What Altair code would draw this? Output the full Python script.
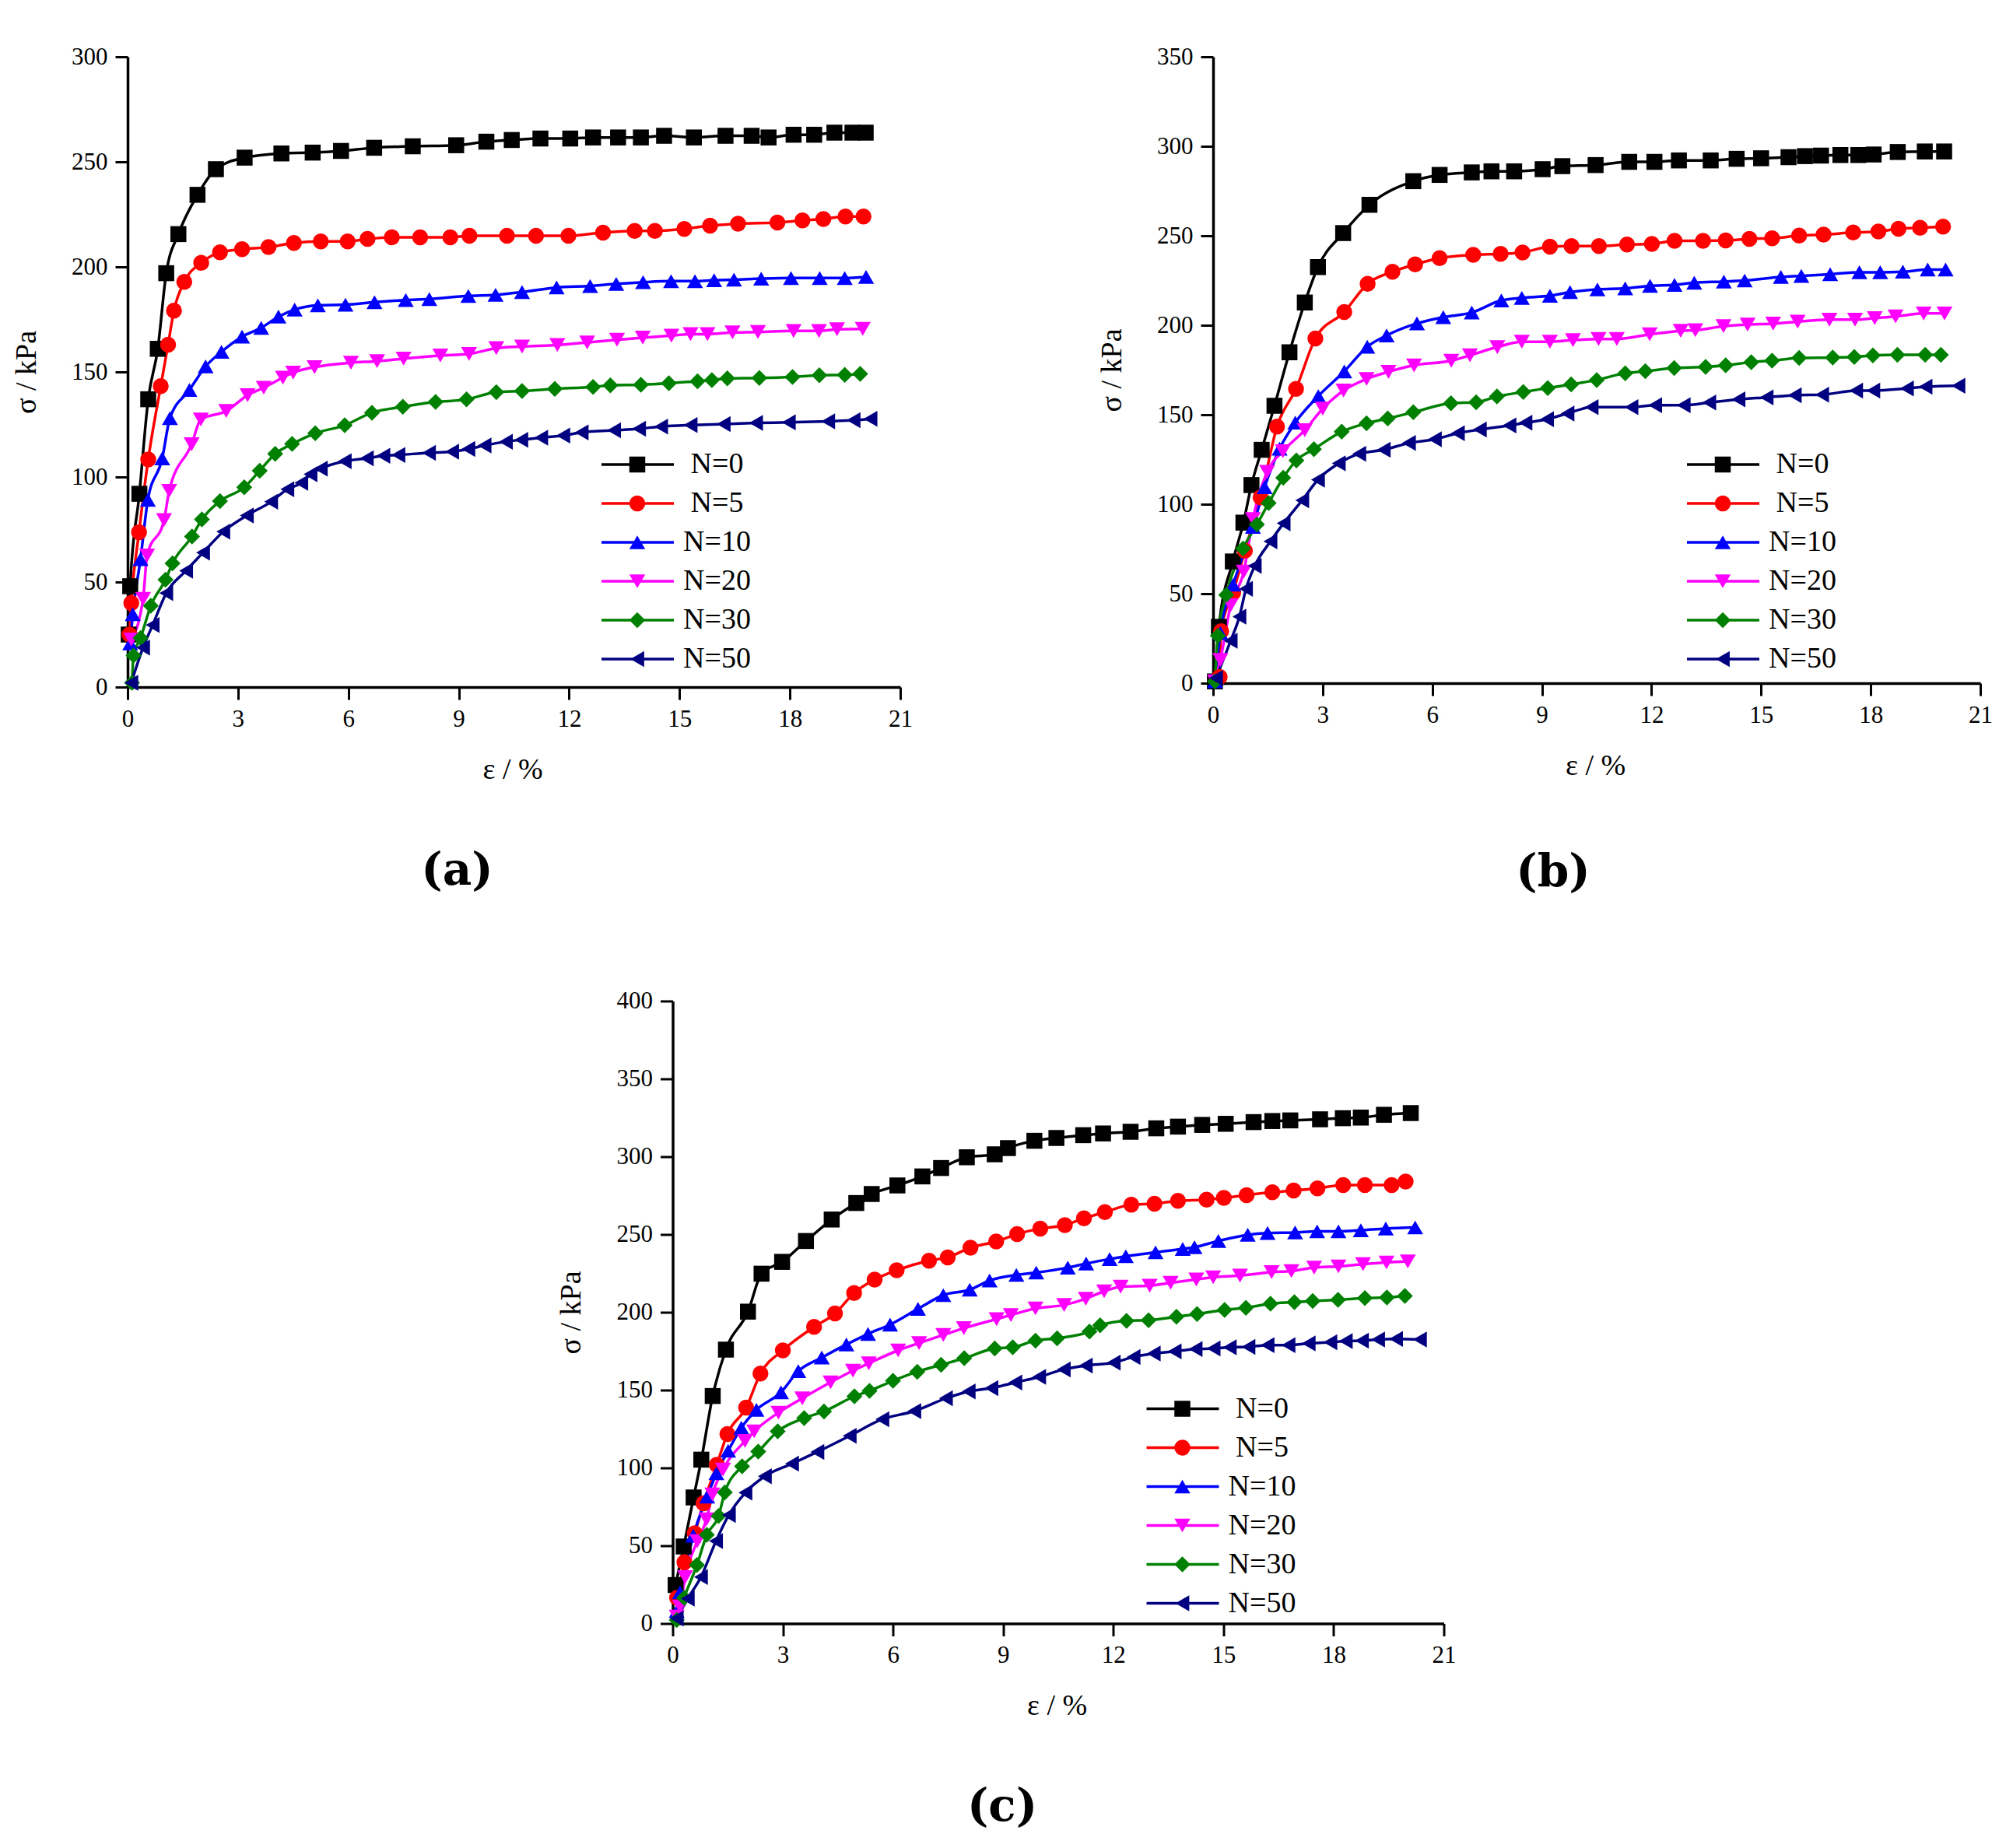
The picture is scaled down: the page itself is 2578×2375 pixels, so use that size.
import altair as alt
import pandas as pd

SERIES = ["N=0", "N=5", "N=10", "N=20", "N=30", "N=50"]
KEYS = ["k0", "k5", "k10", "k20", "k30", "k50"]
COLORS = ["#000000", "#ff0000", "#0000ff", "#ff00ff", "#008000", "#000080"]
SHAPES = ["square", "circle", "triangle-up", "triangle-down", "diamond", "triangle-left"]
X_TICKS = [0, 3, 6, 9, 12, 15, 18, 21]
A_Y_TICKS = [0, 50, 100, 150, 200, 250, 300]
B_Y_TICKS = [0, 50, 100, 150, 200, 250, 300, 350]
C_Y_TICKS = [0, 50, 100, 150, 200, 250, 300, 350, 400]

# ---------------- panel (a) ----------------
A_N0_EPS = [0.03, 0.07, 0.32, 0.56, 0.82, 1.05, 1.38, 1.9, 2.4, 3.18, 4.18, 5.03, 5.8, 6.7, 7.75, 8.93, 9.75, 10.44, 11.22, 12.03, 12.65, 13.33, 13.95, 14.58, 15.39, 16.25, 16.96, 17.42, 18.1, 18.66, 19.21, 19.7, 20.06]
A_N0_SIG = [25, 48, 92, 137, 161, 197, 215.6, 234.3, 246.5, 252, 254, 254.4, 255.2, 256.7, 257.4, 257.9, 259.6, 260.4, 261.1, 261.1, 261.6, 261.6, 261.6, 262.4, 261.6, 262.4, 262.4, 261.6, 262.9, 262.9, 263.9, 263.9, 263.9]
A_N5_EPS = [0.05, 0.1, 0.31, 0.56, 0.9, 1.1, 1.26, 1.54, 2.0, 2.51, 3.11, 3.83, 4.52, 5.25, 5.98, 6.52, 7.18, 7.95, 8.77, 9.29, 10.31, 11.1, 11.98, 12.92, 13.78, 14.33, 15.13, 15.83, 16.59, 17.66, 18.34, 18.91, 19.51, 20.0]
A_N5_SIG = [25, 40, 73.7, 108.3, 143.2, 163, 179.2, 192.9, 201.9, 206.9, 208.4, 209.4, 211.4, 212.1, 212.1, 213.3, 214.1, 214.1, 214.1, 214.8, 214.8, 214.8, 214.8, 216.3, 217.1, 217.1, 218.1, 219.6, 220.6, 221.1, 222.1, 222.8, 224, 224]
A_N10_EPS = [0.07, 0.14, 0.35, 0.55, 0.94, 1.15, 1.68, 2.12, 2.55, 3.11, 3.63, 4.1, 4.54, 5.17, 5.92, 6.71, 7.56, 8.2, 9.26, 10.0, 10.72, 11.66, 12.57, 13.28, 14.01, 14.77, 15.42, 15.94, 16.48, 17.22, 18.03, 18.81, 19.49, 20.07]
A_N10_SIG = [20.8, 34.7, 60.9, 89.1, 108.8, 128, 141.4, 152.6, 159.6, 166.8, 171, 176.3, 179.7, 181.7, 182, 183.2, 184.2, 184.7, 186.2, 186.7, 188, 190.2, 190.9, 191.9, 192.7, 193.2, 193.2, 193.7, 193.9, 194.4, 194.7, 194.7, 194.7, 195.2]
A_N20_EPS = [0.1, 0.42, 0.53, 0.99, 1.13, 1.74, 1.99, 2.68, 3.26, 3.7, 4.22, 4.5, 5.08, 6.07, 6.78, 7.5, 8.5, 9.28, 10.02, 10.72, 11.68, 12.49, 13.3, 14.0, 14.78, 15.3, 15.76, 16.44, 17.13, 18.1, 18.79, 19.28, 19.98]
A_N20_SIG = [22.6, 42, 62.6, 79.5, 93.4, 115.6, 127.4, 131.4, 138.9, 142.5, 147.3, 149.7, 152.3, 154.4, 155.1, 156.3, 157.8, 158.6, 161.3, 162.1, 162.8, 164, 165.3, 166.3, 167.3, 168, 168, 168.8, 169, 169.5, 169.5, 170.3, 170.5]
A_N30_EPS = [0.12, 0.16, 0.35, 0.63, 1.03, 1.22, 1.75, 2.02, 2.51, 3.17, 3.59, 4.01, 4.47, 5.1, 5.9, 6.64, 7.48, 8.37, 9.21, 10.02, 10.72, 11.61, 12.65, 13.12, 13.95, 14.71, 15.49, 15.88, 16.3, 17.17, 18.07, 18.8, 19.49, 19.91]
A_N30_SIG = [2, 15, 23.3, 38.7, 51.1, 58.9, 71.7, 79.8, 88.5, 95.1, 103, 111, 115.7, 120.8, 124.6, 130.6, 133.4, 135.7, 136.9, 140.4, 140.9, 141.9, 142.9, 143.6, 143.9, 144.6, 145.6, 146.1, 146.9, 147.1, 147.6, 148.4, 148.6, 149.1]
A_N50_EPS = [0.1, 0.42, 0.68, 1.05, 1.59, 2.05, 2.6, 3.24, 3.9, 4.34, 4.72, 4.97, 5.25, 5.9, 6.5, 6.95, 7.36, 8.19, 8.82, 9.26, 9.7, 10.28, 10.7, 11.24, 11.84, 12.34, 13.22, 13.9, 14.5, 15.3, 16.2, 17.08, 17.97, 19.04, 19.73, 20.19]
A_N50_SIG = [2, 18.8, 29.5, 44.7, 55.4, 64, 74, 81.7, 88.2, 94.2, 97.2, 101.3, 104, 107.5, 108.9, 110.1, 110.5, 111.5, 112, 113.3, 115, 116.8, 117.7, 118.7, 119.7, 121.2, 122.2, 123, 124, 124.7, 125.2, 125.7, 126, 126.5, 127, 127.7]

# ---------------- panel (b) ----------------
B_N0_EPS = [0.05, 0.16, 0.54, 0.83, 1.05, 1.33, 1.68, 2.09, 2.51, 2.87, 3.56, 4.28, 5.48, 6.2, 7.08, 7.62, 8.24, 9.02, 9.56, 10.47, 11.39, 12.08, 12.75, 13.62, 14.33, 15.0, 15.75, 16.2, 16.64, 17.17, 17.66, 18.08, 18.74, 19.48, 20.01]
B_N0_SIG = [1, 31.5, 68, 89.7, 110.7, 130.4, 155, 184.9, 212.7, 232.5, 251.5, 267.3, 280.5, 284, 285.4, 286, 286, 287.2, 288.9, 289.5, 291.3, 291.3, 292.1, 292.1, 293, 293.3, 293.9, 294.5, 294.8, 295.1, 295.1, 295.4, 296.8, 297.1, 297.1]
B_N5_EPS = [0.18, 0.22, 0.55, 0.87, 1.3, 1.75, 2.27, 2.8, 3.59, 4.23, 4.91, 5.53, 6.2, 7.12, 7.87, 8.47, 9.22, 9.81, 10.56, 11.33, 12.01, 12.63, 13.41, 14.03, 14.68, 15.3, 16.04, 16.71, 17.52, 18.21, 18.76, 19.35, 19.98]
B_N5_SIG = [3.5, 29, 50.7, 74, 103.8, 143.4, 164.5, 192.6, 207.4, 223.2, 229.9, 234, 237.5, 239.3, 239.9, 240.7, 243.9, 244.2, 244.2, 245.1, 245.4, 247.2, 247.2, 247.4, 248.3, 248.6, 250.1, 250.7, 251.8, 252.4, 253.9, 254.5, 255.1]
B_N10_EPS = [0.05, 0.2, 0.55, 1.09, 1.41, 1.82, 2.25, 2.88, 3.59, 4.22, 4.75, 5.58, 6.3, 7.08, 7.89, 8.45, 9.22, 9.77, 10.52, 11.28, 11.96, 12.63, 13.17, 13.98, 14.55, 15.54, 16.1, 16.89, 17.69, 18.26, 18.88, 19.56, 20.05]
B_N10_SIG = [1, 28, 55, 87.3, 109.5, 131, 145.6, 160.4, 174.2, 188, 194.3, 201, 204.5, 207.1, 213.9, 215.3, 216.5, 218.5, 220, 220.6, 222, 222.6, 223.8, 224.4, 225, 227, 227.6, 228.5, 229.6, 229.6, 229.9, 231.1, 231.1]
B_N20_EPS = [0.05, 0.2, 0.48, 0.84, 1.09, 1.48, 1.91, 2.51, 3.0, 3.57, 4.2, 4.8, 5.5, 6.52, 7.03, 7.78, 8.45, 9.22, 9.85, 10.55, 11.05, 11.95, 12.8, 13.2, 13.97, 14.63, 15.33, 16.0, 16.87, 17.57, 18.11, 18.68, 19.45, 20.02]
B_N20_SIG = [1, 13, 43.5, 62.3, 91.7, 118.1, 129.6, 141.4, 153.4, 163.5, 170, 174, 177.6, 180.2, 183.2, 187.8, 190.8, 190.8, 191.7, 192.3, 192.3, 194.9, 196.9, 197.2, 199.5, 200.4, 200.9, 202, 203.1, 203.1, 204, 204.9, 206.6, 206.6]
B_N30_EPS = [0.05, 0.13, 0.36, 0.82, 1.2, 1.52, 1.92, 2.28, 2.76, 3.52, 4.2, 4.78, 5.48, 6.51, 7.2, 7.77, 8.49, 9.16, 9.8, 10.5, 11.28, 11.83, 12.62, 13.48, 14.03, 14.73, 15.3, 16.04, 16.96, 17.55, 18.06, 18.73, 19.49, 19.92]
B_N30_SIG = [1, 26.5, 49.3, 75.2, 88.7, 100.6, 114.8, 124.5, 130.8, 140.5, 145.2, 147.9, 151.4, 156.4, 157, 160.2, 162.7, 164.9, 167, 169.4, 173.2, 174.3, 176.1, 176.7, 177.6, 179.4, 180.2, 181.7, 182, 182.3, 183.2, 183.5, 183.5, 183.5]
B_N50_EPS = [0.08, 0.48, 0.72, 0.9, 1.14, 1.57, 1.93, 2.44, 2.87, 3.44, 4.0, 4.67, 5.36, 6.07, 6.7, 7.3, 8.11, 8.55, 9.14, 9.7, 10.36, 11.45, 12.1, 12.88, 13.58, 14.38, 15.15, 15.92, 16.67, 17.6, 18.07, 18.99, 19.5, 20.4]
B_N50_SIG = [2.9, 23.7, 37.2, 52.7, 65.5, 79.2, 89.4, 102.2, 113.7, 122.8, 128.2, 130.4, 134.2, 136.3, 139.7, 141.7, 144, 145.5, 147.5, 150.7, 154.2, 154.2, 155.3, 155.3, 156.8, 158.6, 159.7, 160.9, 161.2, 163.5, 163.5, 164.7, 165.6, 166.2]

# ---------------- panel (c) ----------------
C_N0_EPS = [0.08, 0.3, 0.57, 0.78, 1.09, 1.45, 2.05, 2.42, 2.98, 3.63, 4.33, 5.0, 5.42, 6.12, 6.8, 7.31, 8.01, 8.77, 9.13, 9.85, 10.45, 11.18, 11.72, 12.47, 13.17, 13.76, 14.42, 15.06, 15.82, 16.33, 16.82, 17.63, 18.25, 18.74, 19.37, 20.1]
C_N0_SIG = [24.7, 49.5, 81, 105.3, 146.2, 176, 200.4, 224.8, 232.4, 245.8, 259.6, 270.2, 276, 281.5, 287.3, 292.7, 299.6, 301.5, 305.5, 310.2, 312, 313.8, 314.9, 316, 318.2, 319.3, 320.4, 321.1, 322.2, 322.9, 323.3, 324, 324.7, 325.1, 326.9, 328]
C_N5_EPS = [0.12, 0.32, 0.6, 0.84, 1.2, 1.49, 2.0, 2.39, 3.0, 3.85, 4.42, 4.94, 5.5, 6.1, 6.98, 7.49, 8.11, 8.81, 9.38, 10.01, 10.68, 11.2, 11.77, 12.49, 13.12, 13.76, 14.54, 15.01, 15.63, 16.33, 16.91, 17.56, 18.26, 18.85, 19.58, 19.96]
C_N5_SIG = [16.5, 39.4, 58, 77.3, 102, 121.8, 138.7, 160.6, 175.5, 190.6, 199.2, 212.4, 221, 227, 233.1, 235.3, 241.5, 245.5, 250.2, 253.8, 256, 260.4, 264.4, 269.1, 269.8, 271.6, 272.4, 273.5, 275.3, 277.1, 278.2, 279.6, 281.8, 281.8, 281.8, 284]
C_N10_EPS = [0.11, 0.2, 0.56, 0.94, 1.19, 1.51, 1.87, 2.28, 2.95, 3.42, 4.06, 4.73, 5.32, 5.92, 6.68, 7.37, 8.09, 8.63, 9.36, 9.9, 10.76, 11.26, 11.9, 12.34, 13.15, 13.89, 14.21, 14.86, 15.66, 16.2, 16.95, 17.55, 18.13, 18.74, 19.42, 20.22]
C_N10_SIG = [8, 20, 56.4, 81.6, 96.5, 111, 125.8, 137.3, 148.6, 162.2, 170.9, 179.3, 186.1, 192.1, 202.2, 211, 214.5, 220.4, 224, 225.5, 228.7, 231.3, 234.2, 236, 238.5, 240.7, 241.8, 245.8, 249.8, 250.9, 251.3, 252, 252, 252.7, 253.8, 254.5]
C_N20_EPS = [0.11, 0.2, 0.34, 0.67, 0.92, 1.08, 1.37, 1.97, 2.22, 2.88, 3.53, 4.3, 4.91, 5.34, 6.14, 6.71, 7.37, 7.93, 8.82, 9.21, 9.88, 10.66, 11.25, 11.75, 12.2, 12.99, 13.56, 14.26, 14.72, 15.45, 16.31, 16.85, 17.47, 18.13, 18.8, 19.44, 20.02]
C_N20_SIG = [4.4, 10.8, 29.8, 52.9, 66.9, 82.9, 98.9, 117.3, 123.5, 135.5, 144.7, 155, 162.5, 167.2, 175.5, 180.2, 185.4, 189.8, 195.6, 198.2, 202.5, 204.7, 208.7, 213.5, 216.4, 217.1, 218.9, 221.1, 222.5, 223.6, 225.8, 226.5, 228.7, 229.5, 230.9, 232, 232.7]
C_N30_EPS = [0.11, 0.31, 0.66, 0.93, 1.25, 1.42, 1.89, 2.33, 2.86, 3.58, 4.12, 4.95, 5.36, 6.0, 6.66, 7.31, 7.94, 8.77, 9.26, 9.88, 10.47, 11.35, 11.64, 12.36, 12.96, 13.72, 14.28, 15.03, 15.61, 16.28, 16.93, 17.43, 18.12, 18.85, 19.45, 19.94]
C_N30_SIG = [2.2, 16.5, 37.6, 57, 69.1, 84.3, 101, 110.5, 123.5, 132, 136.3, 146, 149.5, 156, 161.8, 166.2, 170.5, 176.7, 177.5, 181.8, 183.3, 187.6, 191.6, 194.5, 194.9, 197.1, 198.9, 201.5, 202.9, 205.5, 206.5, 207.3, 208, 209.1, 209.5, 210.5]
C_N50_EPS = [0.11, 0.41, 0.77, 1.18, 1.53, 1.98, 2.51, 3.25, 3.94, 4.82, 5.71, 6.58, 7.44, 8.06, 8.68, 9.33, 9.98, 10.65, 11.25, 12.01, 12.55, 13.1, 13.67, 14.24, 14.73, 15.17, 15.68, 16.2, 16.77, 17.32, 17.91, 18.33, 18.77, 19.21, 19.7, 20.35]
C_N50_SIG = [3.3, 16, 29.9, 53, 69.8, 84.1, 94.6, 102.7, 110.3, 120.6, 131.3, 136.5, 144.7, 149.1, 151.3, 154.9, 158.5, 163.3, 165.8, 167.6, 171.3, 173.5, 174.9, 176.4, 176.7, 177.5, 177.8, 178.9, 178.9, 180, 180.7, 181.5, 181.8, 182.5, 182.9, 182.5]

PANEL_A = [(A_N0_EPS, A_N0_SIG), (A_N5_EPS, A_N5_SIG), (A_N10_EPS, A_N10_SIG),
           (A_N20_EPS, A_N20_SIG), (A_N30_EPS, A_N30_SIG), (A_N50_EPS, A_N50_SIG)]
PANEL_B = [(B_N0_EPS, B_N0_SIG), (B_N5_EPS, B_N5_SIG), (B_N10_EPS, B_N10_SIG),
           (B_N20_EPS, B_N20_SIG), (B_N30_EPS, B_N30_SIG), (B_N50_EPS, B_N50_SIG)]
PANEL_C = [(C_N0_EPS, C_N0_SIG), (C_N5_EPS, C_N5_SIG), (C_N10_EPS, C_N10_SIG),
           (C_N20_EPS, C_N20_SIG), (C_N30_EPS, C_N30_SIG), (C_N50_EPS, C_N50_SIG)]

FONT = "Liberation Serif"
LEG_X = 607
LEG_Y = 505
MK_SIZE = 420


def build_df(panel):
    rows = []
    for i, (eps, sig) in enumerate(panel):
        for e, s in zip(eps, sig):
            rows.append({"eps": e, "sigma": s, "series": SERIES[i], "key": KEYS[i], "si": i})
    return pd.DataFrame(rows)


def anchor(px, py):
    # invisible 1-px layout anchor (pixel position inside the panel), used only to fix concat spacing
    return alt.Chart(pd.DataFrame({"v": [0]})).mark_point(
        filled=True, size=1, opacity=0).encode(x=alt.value(px), y=alt.value(py))


def make_panel(panel, ymax, yticks, w, h, label, lab_x, lab_y, anchors):
    df = build_df(panel)
    xaxis = alt.Axis(values=X_TICKS, title="ε / %", grid=False, labelFlush=False, labelOverlap=False,
                     labelFont=FONT, labelFontSize=31, labelColor="#000", labelPadding=10,
                     tickSize=16, tickWidth=3, tickColor="#000", domainWidth=3.5, domainColor="#000",
                     titleFont=FONT, titleFontSize=38, titleFontWeight="normal", titleColor="#000",
                     titleX=w / 2 - 2, titleY=106, titleBaseline="middle", titleAlign="center")
    yaxis = alt.Axis(values=yticks, title="σ / kPa", grid=False, labelFlush=False, labelOverlap=False,
                     labelFont=FONT, labelFontSize=31, labelColor="#000", labelPadding=10,
                     tickSize=16, tickWidth=3, tickColor="#000", domainWidth=3.5, domainColor="#000",
                     titleFont=FONT, titleFontSize=38, titleFontWeight="normal", titleColor="#000",
                     titleX=-130, titleY=h / 2, titleBaseline="middle", titleAlign="center", titleAngle=270)
    line_leg = alt.Legend(title=None, orient="none", legendX=LEG_X, legendY=LEG_Y,
                          symbolType="stroke", symbolSize=8649, symbolStrokeWidth=3.5,
                          labelFont=FONT, labelFontSize=38, labelColor="#000", labelAlign="center",
                          labelOffset=53.5, labelLimit=400, rowPadding=12, padding=0, clipHeight=38)
    mk_leg = alt.Legend(title=None, orient="none", legendX=LEG_X + 29, legendY=LEG_Y,
                        symbolSize=MK_SIZE, symbolStrokeWidth=0, symbolOpacity=1,
                        labelFont=FONT, labelFontSize=38, labelOpacity=0, labelLimit=400,
                        labelExpr="' '", rowPadding=12, padding=0, clipHeight=38)
    xs = alt.Scale(domain=[0, 21], nice=False, zero=False)
    ys = alt.Scale(domain=[0, ymax], nice=False)
    base = alt.Chart(df)
    lines = base.mark_line(strokeWidth=3.5, interpolate="monotone").encode(
        x=alt.X("eps:Q", scale=xs, axis=xaxis),
        y=alt.Y("sigma:Q", scale=ys, axis=yaxis),
        color=alt.Color("series:N", scale=alt.Scale(domain=SERIES, range=COLORS), legend=line_leg),
        order=alt.Order("eps:Q"),
    )
    pts = base.mark_point(filled=True, size=MK_SIZE, opacity=1).encode(
        x=alt.X("eps:Q", scale=xs),
        y=alt.Y("sigma:Q", scale=ys),
        fill=alt.Fill("key:N", scale=alt.Scale(domain=KEYS, range=COLORS), legend=mk_leg),
        shape=alt.Shape("key:N", scale=alt.Scale(domain=KEYS, range=SHAPES), legend=mk_leg),
    )
    txt = alt.Chart(pd.DataFrame({"t": [label]})).mark_text(
        font="DejaVu Serif", fontWeight="bold", fontSize=58, align="center", baseline="middle", color="#000"
    ).encode(text="t:N", x=alt.value(lab_x), y=alt.value(lab_y))
    layers = [lines, pts, txt] + [anchor(px, py) for px, py in anchors]
    return alt.layer(*layers).properties(width=w, height=h)


pa = make_panel(PANEL_A, 300, A_Y_TICKS, 993, 810, "(a)", 423.5, 1046.5, [(-150, -60), (0, 1100)])
pb = make_panel(PANEL_B, 350, B_Y_TICKS, 986, 805, "(b)", 437, 1049, [])
pc = make_panel(PANEL_C, 400, C_Y_TICKS, 991, 800, "(c)", 423.5, 1036, [(0, -50)])

spacer = alt.Chart(pd.DataFrame({"v": [0]})).mark_point(filled=True, size=1, opacity=0).encode(
    x=alt.value(0), y=alt.value(0)).properties(width=1, height=1)

RES = dict(color="independent", fill="independent", shape="independent", x="independent", y="independent")

top = alt.hconcat(pa, pb, spacing=402, bounds="flush").resolve_scale(**RES)
bottom = alt.hconcat(spacer, pc, spacing=699.5, bounds="flush").resolve_scale(**RES)
chart = alt.vconcat(top, bottom, spacing=61.5).resolve_scale(**RES).properties(
    padding={"left": 5, "top": 4, "right": 5, "bottom": 5},
    background="white",
).configure_view(stroke=None)

chart.save("out.html", embed_options={"renderer": "svg", "actions": False})
